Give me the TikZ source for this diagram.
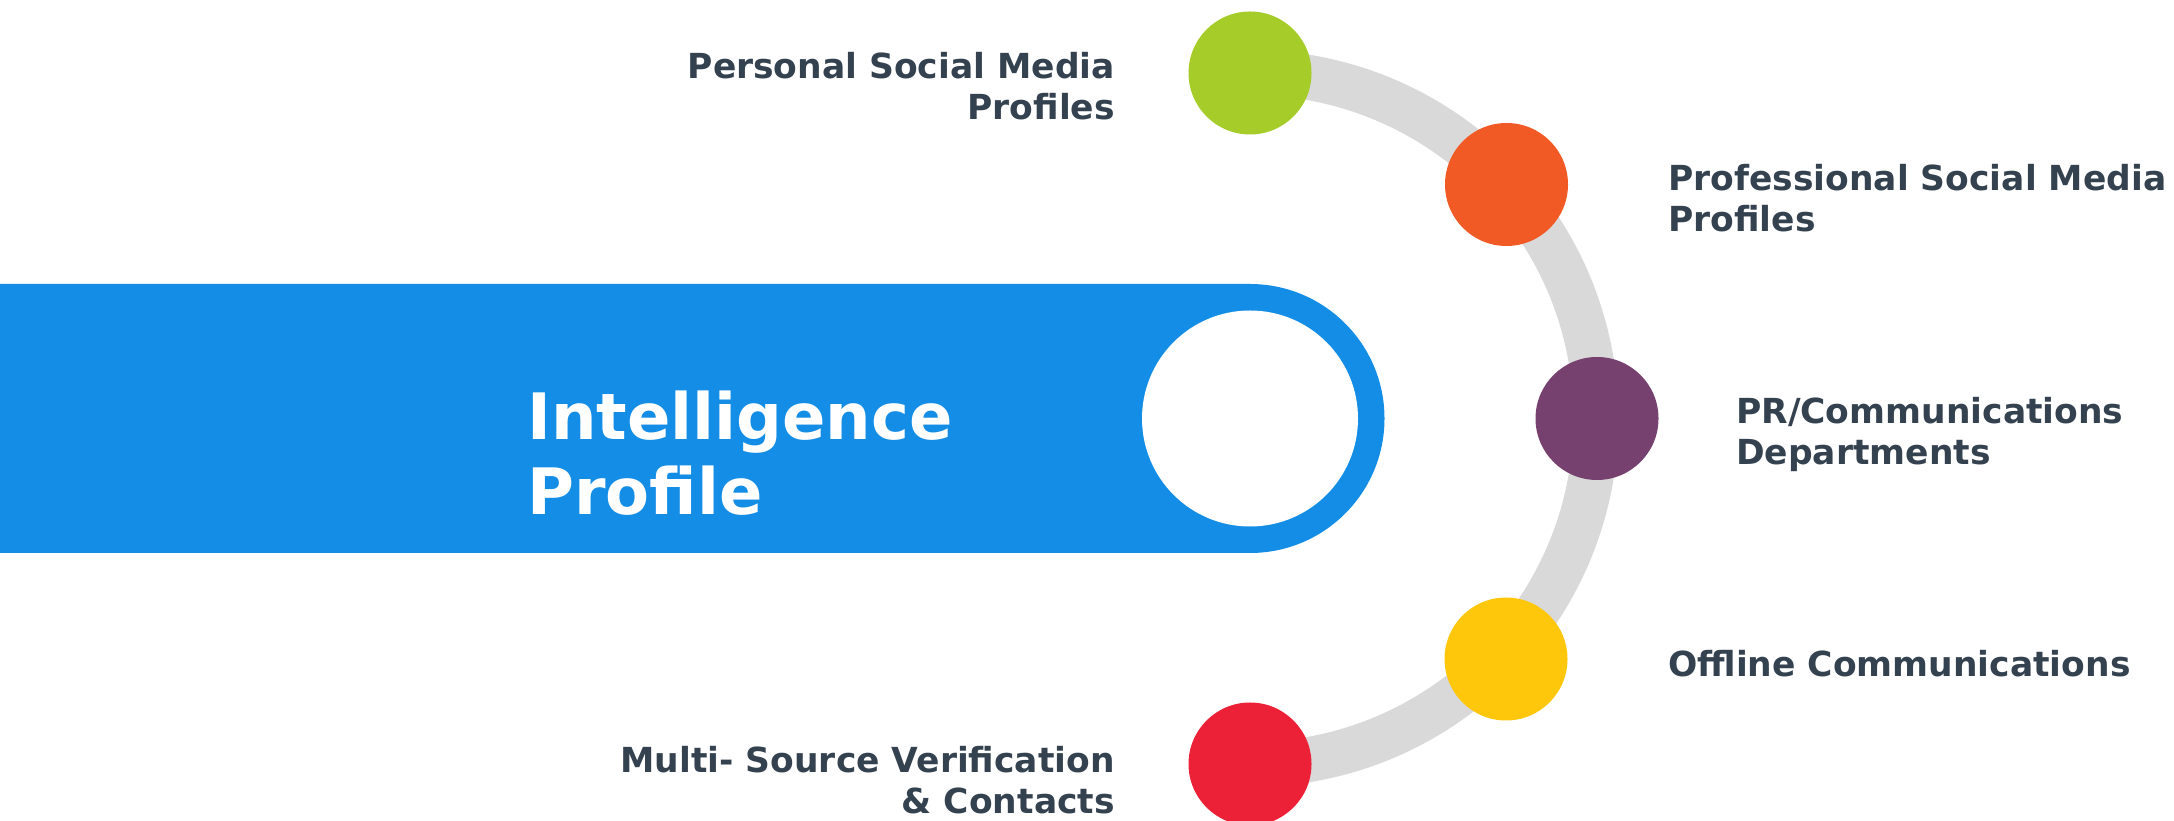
\documentclass[tikz,border=0pt]{standalone}
\usepackage{fontspec}
\setmainfont{DejaVu Sans}
\definecolor{bandblue}{HTML}{138DE6}
\definecolor{trackgray}{HTML}{D9D9D9}
\definecolor{inkslate}{HTML}{344250}
\definecolor{dotgreen}{HTML}{A5CC28}
\definecolor{dotorange}{HTML}{F15A24}
\definecolor{dotpurple}{HTML}{76416F}
\definecolor{dotyellow}{HTML}{FEC70C}
\definecolor{dotred}{HTML}{EC2137}
\tikzset{
  dot/.style={circle,inner sep=0pt,minimum size=123pt},
  itemtext/.style={inner sep=0pt,text=inkslate,font=\fontsize{34.5}{40.5}\selectfont\bfseries},
  titletext/.style={inner sep=0pt,text=white,align=left,font=\fontsize{64}{75}\selectfont\bfseries}
}
\begin{document}
\begin{tikzpicture}[x=1pt,y=1pt]
  \useasboundingbox (0,0) rectangle (2174,821);
  % blue band with rounded end
  \fill[bandblue] (0,268) -- (1250,268) arc[start angle=-90,end angle=90,radius=134.5] -- (0,537) -- cycle;
  \node[circle,fill=white,inner sep=0pt,minimum size=216pt] (hub) at (1250,402.5) {};
  \node[titletext,anchor=base west] (title) at (527,306) {Intelligence\\Profile};
  % track
  \draw[trackgray,line width=45pt] (1250,748.5) arc[start angle=90,end angle=-90,radius=346];
  \node[dot,fill=dotgreen] (personal) at (1250,748) {};
  \node[dot,fill=dotorange] (professional) at (1506.5,636.5) {};
  \node[dot,fill=dotpurple] (pr) at (1597,402.5) {};
  \node[dot,fill=dotyellow] (offline) at (1506,162) {};
  \node[dot,fill=dotred] (multi) at (1250,57) {};
  % labels (base = last line)
  \node[itemtext,align=right,anchor=base east] (personal text) at (1115,701.5) {Personal Social Media\\Profiles};
  \node[itemtext,align=left,anchor=base west] (professional text) at (1668,589.5) {Professional Social Media\\Profiles};
  \node[itemtext,align=left,anchor=base west] (pr text) at (1736,356.5) {PR/Communications\\Departments};
  \node[itemtext,anchor=base west] (offline text) at (1668,144) {Offline Communications};
  \node[itemtext,align=right,anchor=base east] (multi text) at (1115,7.5) {Multi- Source Verification\\\& Contacts};
\end{tikzpicture}
\end{document}
